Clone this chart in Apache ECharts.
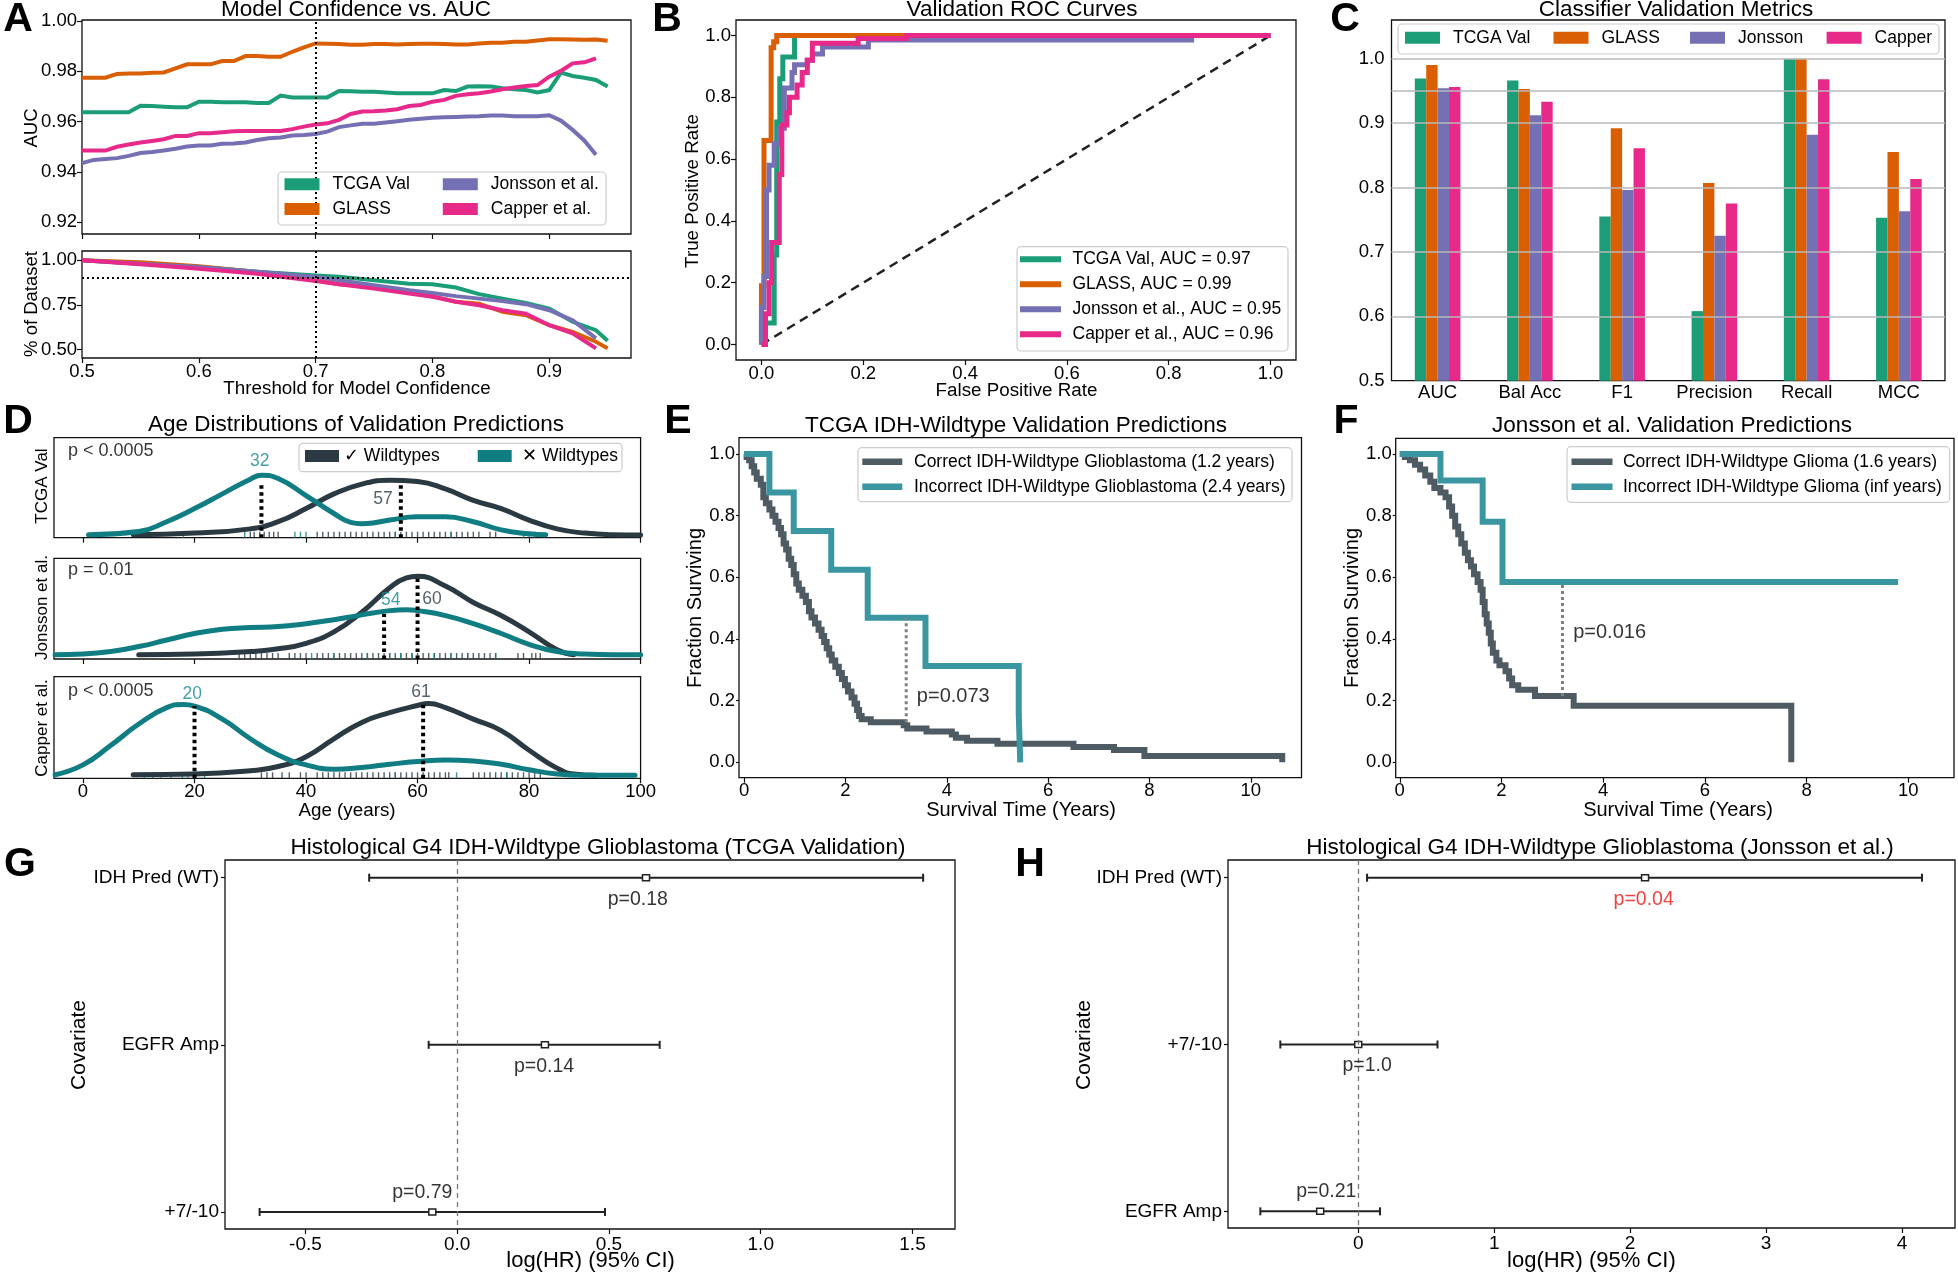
<!DOCTYPE html>
<html><head><meta charset="utf-8">
<script src="https://cdn.jsdelivr.net/npm/echarts@6/dist/echarts.min.js"></script>
<style>html,body{margin:0;padding:0;background:#fff}#c{width:1958px;height:1274px}</style>
</head><body><div id="c"></div>
<script>
// ---------------- DATA ----------------
// Panel A
const aThresh = [0.50,0.51,0.52,0.53,0.54,0.55,0.56,0.57,0.58,0.59,0.60,0.61,0.62,0.63,0.64,0.65,0.66,0.67,0.68,0.69,0.70,0.71,0.72,0.73,0.74,0.75,0.76,0.77,0.78,0.79,0.80,0.81,0.82,0.83,0.84,0.85,0.86,0.87,0.88,0.89,0.90,0.91,0.92,0.93,0.94,0.95];
const aucTCGA = [.9637,.9637,.9637,.9637,.9637,.9663,.9662,.9659,.9657,.9657,.9679,.9679,.9677,.9677,.9677,.9674,.9674,.9703,.9696,.9696,.9696,.9696,.9721,.9720,.9718,.9718,.9715,.9712,.9712,.9712,.9712,.9725,.9721,.9739,.9740,.9739,.9732,.9728,.9725,.9716,.9725,.9794,.9781,.9774,.9765,.9739];
const aucGLASS = [.9774,.9774,.9774,.9789,.9791,.9791,.9794,.9795,.9811,.9827,.9827,.9827,.9840,.9840,.9860,.9860,.9857,.9857,.9877,.9894,.9910,.9909,.9908,.9905,.9905,.9908,.9908,.9906,.9908,.9909,.9909,.9908,.9906,.9906,.9910,.9913,.9913,.9917,.9917,.9922,.9927,.9927,.9926,.9925,.9926,.9921];
const aucJon = [.9435,.9448,.9452,.9455,.9464,.9475,.9479,.9485,.9492,.9501,.9505,.9505,.9512,.9513,.9517,.9527,.9534,.9537,.9545,.9547,.9551,.9560,.9578,.9585,.9591,.9591,.9596,.9601,.9607,.9611,.9615,.9617,.9618,.9620,.9621,.9624,.9624,.9621,.9621,.9621,.9625,.9604,.9567,.9525,.9468];
const aucCap = [.9485,.9485,.9485,.9500,.9509,.9517,.9523,.9530,.9543,.9543,.9554,.9554,.9558,.9562,.9563,.9563,.9563,.9563,.9570,.9580,.9588,.9593,.9607,.9630,.9640,.9641,.9644,.9649,.9662,.9666,.9679,.9686,.9702,.9708,.9712,.9719,.9728,.9735,.9741,.9745,.9778,.9801,.9831,.9835,.9851];
const pctX = [0.50,0.55,0.60,0.65,0.70,0.72,0.75,0.78,0.80,0.82,0.84,0.86,0.88,0.90,0.92,0.94,0.95];
const pctTCGA = [1.0,0.981,0.963,0.935,0.914,0.907,0.888,0.869,0.866,0.847,0.810,0.785,0.761,0.729,0.655,0.608,0.549];
const pctGLASS = [1.0,0.989,0.966,0.935,0.888,0.866,0.851,0.823,0.799,0.767,0.757,0.711,0.692,0.636,0.599,0.543,0.506];
const pctJon = [1.0,0.981,0.963,0.935,0.907,0.888,0.860,0.832,0.817,0.799,0.785,0.771,0.754,0.720,0.664,0.562];
const pctCap = [1.0,0.978,0.953,0.925,0.884,0.866,0.841,0.813,0.795,0.767,0.748,0.720,0.701,0.636,0.590,0.506];
const aThreshTicks = [0.5,0.6,0.7,0.8,0.9];
const aucTicks = [0.92,0.94,0.96,0.98,1.00];
const pctTicks = [0.50,0.75,1.00];

// Panel B (ROC)
const rocTCGA = [[0,0],[0,0.07],[0.025,0.07],[0.025,0.29],[0.03,0.29],[0.03,0.72],[0.036,0.72],[0.036,0.86],[0.042,0.86],[0.042,0.93],[0.065,0.93],[0.065,1.0],[1,1]];
const rocGLASS = [[0,0],[0,0.19],[0.005,0.19],[0.005,0.66],[0.019,0.66],[0.019,0.96],[0.024,0.96],[0.024,0.98],[0.03,0.98],[0.03,1.0],[1,1]];
const rocJon = [[0,0],[0,0.12],[0.005,0.12],[0.005,0.22],[0.01,0.22],[0.01,0.5],[0.015,0.5],[0.015,0.58],[0.025,0.58],[0.025,0.65],[0.035,0.65],[0.035,0.7],[0.045,0.7],[0.045,0.83],[0.06,0.83],[0.06,0.88],[0.065,0.88],[0.065,0.905],[0.09,0.905],[0.09,0.92],[0.1,0.92],[0.1,0.94],[0.12,0.94],[0.12,0.963],[0.21,0.963],[0.21,0.985],[0.845,0.985],[0.845,1.0],[1,1]];
const rocCap = [[0,0],[0.008,0],[0.008,0.1],[0.015,0.1],[0.015,0.2],[0.02,0.2],[0.02,0.33],[0.035,0.33],[0.035,0.55],[0.04,0.55],[0.04,0.71],[0.05,0.71],[0.05,0.75],[0.055,0.75],[0.055,0.8],[0.07,0.8],[0.07,0.84],[0.08,0.84],[0.08,0.88],[0.09,0.88],[0.09,0.92],[0.1,0.92],[0.1,0.975],[0.19,0.975],[0.19,0.99],[0.285,0.99],[0.285,1.0],[1,1]];
const rocChance = [[0,0],[1,1]];
const rocNames = ['TCGA Val, AUC = 0.97','GLASS, AUC = 0.99','Jonsson et al., AUC = 0.95','Capper et al., AUC = 0.96'];
const unitTicks = [0,0.2,0.4,0.6,0.8,1.0];

// Panel C
const cCats = ['AUC','Bal Acc','F1','Precision','Recall','MCC'];
const cTCGA = [0.969,0.966,0.755,0.608,1.000,0.753];
const cGLASS = [0.990,0.953,0.892,0.807,1.000,0.855];
const cJon = [0.954,0.912,0.796,0.725,0.882,0.763];
const cCap = [0.956,0.933,0.861,0.775,0.968,0.813];
const cTicks = [0.5,0.6,0.7,0.8,0.9,1.0];
const cGrid = [0.6,0.7,0.8,0.9,0.95,1.0];

// Panel D (density curves, relative heights)
const dTcgaDarkX = [9,20,30,35,40,45,50,55,60,65,70,75,80,85,90,95,100];
const dTcgaDarkY = [0.01,0.027,0.07,0.143,0.277,0.427,0.527,0.567,0.553,0.477,0.36,0.277,0.16,0.07,0.027,0.01,0.007];
const dTcgaTealX = [1,10,15,20,25,30,32,35,40,45,48,50,52,55,60,65,70,75,80,83];
const dTcgaTealY = [0.01,0.043,0.143,0.277,0.427,0.577,0.617,0.583,0.41,0.227,0.137,0.123,0.13,0.16,0.193,0.193,0.143,0.06,0.02,0.01];
const dJonDarkX = [10,20,30,35,40,45,50,55,58,60,65,70,75,80,85,88];
const dJonDarkY = [0.023,0.03,0.056,0.083,0.139,0.255,0.454,0.702,0.801,0.818,0.719,0.553,0.42,0.255,0.073,0.023];
const dJonTealX = [-5,0,5,10,15,20,25,30,35,40,45,50,55,58,60,65,70,75,80,85,90,95,100];
const dJonTealY = [0.023,0.03,0.056,0.106,0.172,0.238,0.281,0.298,0.308,0.338,0.377,0.427,0.47,0.48,0.47,0.42,0.338,0.238,0.129,0.056,0.03,0.023,0.023];
const dCapDarkX = [9,20,30,35,40,45,50,55,60,62,65,70,75,80,85,88,92];
const dCapDarkY = [0.016,0.023,0.056,0.098,0.197,0.377,0.541,0.639,0.711,0.731,0.689,0.574,0.459,0.262,0.082,0.023,0.01];
const dCapTealX = [-5,0,5,10,15,18,20,25,30,35,40,45,50,55,60,65,70,75,80,85,90,99];
const dCapTealY = [0.016,0.115,0.311,0.525,0.689,0.721,0.705,0.574,0.377,0.213,0.115,0.072,0.089,0.121,0.148,0.164,0.154,0.121,0.066,0.023,0.01,0.01];
const rugTcgaDark = [30,30.7,31.7,32.5,33.4,34.2,35,42,43,44,45,46,47,48,49,50,51,52,53,54,55,56,57,58,59,60,61,62,63,64,65,66,67,68,69,70,71,73,74];
const rugTcgaTeal = [18,29,38,39,40,56,66,79,80,81];
const rugJonDark = [28,29,30,31,32,33,34,35,37,38,39,40,42,43,44,45,46,47,48,49,50,51,52,53,54,55,56,57,58,59,60,61,62,63,64,65,66,67,68,69,70,71,72,73,74,78,79,80.5,81.2,82];
const rugJonTeal = [41,45,51,55,57,59,63,66,69,74];
const rugCapDark = [32,33,34,35.7,37,39,40,42,43,44,45,46,47,48,49,50,51,52,53,54,55,56,57,58,59,60,61,62,63,64,65,65.6,70,71,72,73,74,75,76,77,78,79,80,81,82];
const rugCapTeal = [11,12.5,14,15.8,17.8,18.8,19.8,21.8,56,67,76];
const dNames = ['TCGA Val','Jonsson et al.','Capper et al.'];
const dMedDark = [57,60,61];
const dMedDarkTop = [0.55,0.818,0.731];
const dMedTeal = [32,54,20];
const dMedTealTop = [0.527,0.437,0.705];
const dLabDark = [[53.8,0.377],[62.6,0.586],[60.6,0.846]];
const dLabTeal = [[31.7,0.76],[55.2,0.576],[19.6,0.82]];
const dPText = ['p < 0.0005','p = 0.01','p < 0.0005'];
const dPPos = [[-2.8,0.86],[-2.8,0.877],[-2.8,0.859]];
const dTicks = [0,20,40,60,80,100];

// Panel E / F (Kaplan-Meier, [time, survival])
const eCorrect = [[0,1.0],[0.05,0.99],[0.1,0.98],[0.15,0.96],[0.2,0.94],[0.25,0.92],[0.33,0.90],[0.38,0.86],[0.43,0.84],[0.5,0.82],[0.56,0.80],[0.62,0.78],[0.68,0.76],[0.73,0.74],[0.78,0.71],[0.83,0.69],[0.88,0.66],[0.93,0.64],[0.98,0.61],[1.03,0.58],[1.08,0.56],[1.15,0.54],[1.22,0.52],[1.28,0.49],[1.33,0.47],[1.4,0.45],[1.47,0.43],[1.53,0.41],[1.58,0.39],[1.63,0.37],[1.68,0.35],[1.73,0.33],[1.8,0.31],[1.87,0.29],[1.93,0.27],[1.99,0.25],[2.05,0.23],[2.12,0.21],[2.18,0.19],[2.23,0.17],[2.27,0.15],[2.32,0.14],[2.5,0.13],[3.15,0.12],[3.22,0.11],[3.6,0.10],[4.1,0.09],[4.18,0.08],[4.4,0.07],[5.0,0.06],[6.5,0.05],[7.3,0.04],[7.9,0.02],[10.62,0.0]];
const eIncorrect = [[0,1.0],[0.5,0.875],[0.98,0.75],[1.72,0.625],[2.44,0.469],[3.58,0.3125],[5.42,0.156],[5.45,0.0]];
const fCorrect = [[0,1.0],[0.1,0.99],[0.2,0.98],[0.3,0.965],[0.4,0.95],[0.5,0.93],[0.6,0.91],[0.68,0.89],[0.8,0.875],[0.9,0.86],[0.97,0.83],[1.03,0.80],[1.09,0.765],[1.15,0.74],[1.21,0.71],[1.28,0.68],[1.34,0.655],[1.4,0.635],[1.46,0.61],[1.53,0.585],[1.59,0.56],[1.63,0.52],[1.67,0.48],[1.71,0.45],[1.75,0.42],[1.79,0.385],[1.83,0.355],[1.9,0.33],[1.96,0.315],[2.08,0.295],[2.15,0.272],[2.21,0.25],[2.33,0.235],[2.66,0.215],[3.42,0.183],[7.7,0.0]];
const fIncorrect = [[0,1.0],[0.8,0.914],[1.63,0.78],[2.02,0.585],[9.8,0.585]];
const eNames = ['Correct IDH-Wildtype Glioblastoma (1.2 years)','Incorrect IDH-Wildtype Glioblastoma (2.4 years)'];
const fNames = ['Correct IDH-Wildtype Glioma (1.6 years)','Incorrect IDH-Wildtype Glioma (inf years)'];
const eMedian = [[3.2,0.13],[3.2,0.47]];
const fMedian = [[3.2,0.215],[3.2,0.585]];
const eP = {text:'p=0.073', at:[3.4,0.213]};
const fP = {text:'p=0.016', at:[3.4,0.42]};
const kmXTicks = [0,2,4,6,8,10];

// Panel G / H (forest plots)
const gCov = ['IDH Pred (WT)','EGFR Amp','+7/-10'];
const gLo = [-0.29,-0.094,-0.651];
const gEst = [0.622,0.289,-0.082];
const gHi = [1.535,0.667,0.487];
const gP = ['p=0.18','p=0.14','p=0.79'];
const gPx = [0.595,0.286,-0.115];
const hCov = ['IDH Pred (WT)','+7/-10','EGFR Amp'];
const hLo = [0.065,-0.573,-0.72];
const hEst = [2.11,0.0,-0.28];
const hHi = [4.147,0.583,0.16];
const hP = ['p=0.04','p=1.0','p=0.21'];
const hPx = [2.1,0.065,-0.235];
const gTicks = [-0.5,0,0.5,1.0,1.5];
const hTicks = [0,1,2,3,4];

// ---------------- STYLE / BUILD ----------------
const FONT = "'Liberation Sans', Arial, Helvetica, sans-serif";
const C_TCGA='#1b9e77', C_GLASS='#d95f02', C_JON='#7570b3', C_CAP='#e7298a';
const D_DARK='#2b3a42', D_TEAL='#107d82';
const KM_DARK='#4f5b62', KM_TEAL='#3a96a0';

const grids = [
 {left:82, top:20, width:549, height:214},
 {left:82, top:251, width:549, height:107},
 {left:736, top:20, width:560, height:340},
 {left:1391.5, top:20, width:553.5, height:360.7},
 {left:54, top:437.7, width:586.6, height:100},
 {left:54, top:558.3, width:586.6, height:100.7},
 {left:54, top:676.7, width:586.6, height:101.6},
 {left:739, top:437.7, width:562.5, height:340},
 {left:1395.7, top:438.3, width:558.3, height:339.4},
 {left:225, top:860, width:730, height:369},
 {left:1228, top:860, width:727, height:368}
].map(g => Object.assign({show:true, borderColor:'#111', borderWidth:1.3, backgroundColor:'transparent', containLabel:false, outerBoundsMode:'none'}, g));

function merge(a, b){ for (const k in b){ if (b[k] && typeof b[k]==='object' && !Array.isArray(b[k]) && a[k] && typeof a[k]==='object') merge(a[k], b[k]); else a[k]=b[k]; } return a; }
function axis(gi, min, max, ticks, fmt, extra){
  const a = {type:'value', gridIndex:gi, min, max, axisLine:{show:false, onZero:false}, splitLine:{show:false},
    axisTick:{show: !!ticks, length:5, lineStyle:{color:'#111', width:1.2}},
    axisLabel:{show: !!fmt, color:'#000', fontSize:18.5, margin:5, fontFamily:FONT}};
  if (ticks){ a.axisTick.customValues = ticks; a.axisLabel.customValues = ticks; }
  if (fmt) a.axisLabel.formatter = fmt;
  if (extra) merge(a, extra);
  return a;
}
const f1 = v => v.toFixed(1), f2 = v => v.toFixed(2), f0 = v => String(Math.round(v));

const xAxes = [
  axis(0, 0.5, 0.97, aThreshTicks, null),
  axis(1, 0.5, 0.97, aThreshTicks, f1, {axisLabel:{margin:4}}),
  axis(2, -0.05, 1.05, unitTicks, f1, {axisLabel:{margin:4}}),
  {type:'category', gridIndex:3, data:cCats, axisLine:{show:false, onZero:false}, axisTick:{show:false}, splitLine:{show:false},
   axisLabel:{color:'#000', fontSize:18.5, margin:3, fontFamily:FONT, interval:0}},
  axis(4, -5.2, 100, dTicks, null),
  axis(5, -5.2, 100, dTicks, null),
  axis(6, -5.2, 100, dTicks, f0, {axisLabel:{margin:4}}),
  axis(7, -0.1, 11.0, kmXTicks, f0, {axisLabel:{margin:4}}),
  axis(8, -0.08, 10.9, kmXTicks, f0, {axisLabel:{margin:4}}),
  axis(9, -0.765, 1.64, gTicks, f1, {axisLabel:{fontSize:19, margin:6}}),
  axis(10, -0.958, 4.39, hTicks, f0, {axisLabel:{fontSize:19, margin:6}})
];
const yAxes = [
  axis(0, 0.9154, 1.0003, aucTicks, f2),
  axis(1, 0.452, 1.052, pctTicks, f2),
  axis(2, -0.05, 1.05, unitTicks, f1),
  axis(3, 0.5, 1.06, cTicks, f1, {axisTick:{show:false}, axisLabel:{margin:7}}),
  axis(4, -0.02, 1, null, null),
  axis(5, -0.02, 1, null, null),
  axis(6, -0.02, 1, null, null),
  axis(7, -0.05, 1.053, unitTicks, f1, {axisTick:{length:3}, axisLabel:{margin:4}}),
  axis(8, -0.05, 1.051, unitTicks, f1, {axisTick:{length:3}, axisLabel:{margin:4}}),
  axis(9, -0.106, 2.102, [0,1,2], v => gCov[Math.round(v)], {inverse:true, axisLabel:{fontSize:19, margin:6}, axisTick:{length:4}}),
  axis(10, -0.106, 2.1, [0,1,2], v => hCov[Math.round(v)], {inverse:true, axisLabel:{fontSize:19, margin:6}, axisTick:{length:4}})
];

function line(name, gi, data, color, width, extra){
  return merge({type:'line', name, xAxisIndex:gi, yAxisIndex:gi, data, showSymbol:false, symbol:'none', color,
    lineStyle:{color, width, cap:'butt', join:'miter'}, itemStyle:{color}, silent:true, z:3}, extra||{});
}
function ml(data, color, type, width){
  return {silent:true, symbol:['none','none'], label:{show:false}, animation:false, lineStyle:{color, type, width}, emphasis:{disabled:true}, data};
}
function textPts(gi, items, size){
  return {type:'scatter', xAxisIndex:gi, yAxisIndex:gi, symbolSize:1, silent:true, z:8,
    itemStyle:{color:'rgba(0,0,0,0)'},
    data: items.map(it => ({value:it.at, label:{show:true, formatter:it.text, position:it.pos||'inside', distance:it.dist||0,
      color:it.color||'#000', fontSize:size, fontFamily:FONT}}))};
}

const series = [];
// A
const aSets = [['TCGA Val',aucTCGA,pctTCGA,C_TCGA],['GLASS',aucGLASS,pctGLASS,C_GLASS],['Jonsson et al.',aucJon,pctJon,C_JON],['Capper et al.',aucCap,pctCap,C_CAP]];
aSets.forEach(([n, auc, pct, c], i) => {
  series.push(line(n, 0, auc.map((y,j)=>[aThresh[j], y]), c, 4, i===0 ? {markLine: ml([{xAxis:0.7}], '#000', [2,3], 2)} : {}));
  series.push(line(n, 1, pct.map((y,j)=>[pctX[j], y]), c, 4, i===0 ? {markLine: ml([{xAxis:0.7},{yAxis:0.9}], '#000', [2,3], 2)} : {}));
});
// B
series.push(line('chance', 2, rocChance, '#222', 2.5, {lineStyle:{type:[9,6]}}));
[[rocTCGA,C_TCGA],[rocGLASS,C_GLASS],[rocJon,C_JON],[rocCap,C_CAP]].forEach(([d,c],i) => series.push(line(rocNames[i], 2, d, c, 5)));
// C
series.push({type:'line', name:'grid', xAxisIndex:3, yAxisIndex:3, data:cCats.map(()=>null), z:1, silent:true,
  markLine: ml(cGrid.map(v=>({yAxis:v})), '#b8b8b8', 'solid', 1.5)});
[['TCGA Val',cTCGA,C_TCGA],['GLASS',cGLASS,C_GLASS],['Jonsson',cJon,C_JON],['Capper',cCap,C_CAP]].forEach(([n,d,c]) =>
  series.push({type:'bar', name:n, xAxisIndex:3, yAxisIndex:3, data:d, barWidth:11.4, barGap:'0%', itemStyle:{color:c}, z:3, silent:true}));
// D
const dSets = [
  [dTcgaDarkX,dTcgaDarkY,dTcgaTealX,dTcgaTealY,rugTcgaDark,rugTcgaTeal],
  [dJonDarkX,dJonDarkY,dJonTealX,dJonTealY,rugJonDark,rugJonTeal],
  [dCapDarkX,dCapDarkY,dCapTealX,dCapTealY,rugCapDark,rugCapTeal]
];
dSets.forEach(([dx,dy,tx,ty,rd,rt], k) => {
  const gi = 4 + k;
  series.push(line('✓ Wildtypes', gi, dx.map((x,i)=>[x,dy[i]]), D_DARK, 5, {smooth:0.5, lineStyle:{cap:'round', join:'round'}}));
  series.push(line('✕ Wildtypes', gi, tx.map((x,i)=>[x,ty[i]]), D_TEAL, 5, {smooth:0.5, lineStyle:{cap:'round', join:'round'}}));
  series.push(line('med', gi, [[dMedDark[k],-0.02],[dMedDark[k],dMedDarkTop[k]]], '#000', 4, {lineStyle:{type:[3.5,3.5]}, z:4}));
  series.push(line('med', gi, [[dMedTeal[k],-0.02],[dMedTeal[k],dMedTealTop[k]]], '#000', 4, {lineStyle:{type:[3.5,3.5]}, z:4}));
  series.push({type:'scatter', xAxisIndex:gi, yAxisIndex:gi, symbol:'rect', symbolSize:[1.4,6], symbolOffset:[0,-3], silent:true,
    itemStyle:{color:D_DARK}, data: rd.map(v=>[v,-0.02]), z:2});
  series.push({type:'scatter', xAxisIndex:gi, yAxisIndex:gi, symbol:'rect', symbolSize:[1.4,6], symbolOffset:[0,-3], silent:true,
    itemStyle:{color:D_TEAL}, data: rt.map(v=>[v,-0.02]), z:2});
  series.push(textPts(gi, [
    {text:String(dMedDark[k]), at:dLabDark[k], color:D_DARK},
    {text:String(dMedTeal[k]), at:dLabTeal[k], color:'#158a90'}], 17.5));
  series.push(textPts(gi, [{text:dPText[k], at:dPPos[k], pos:'right'}], 18));
});
// E / F
series.push(line(eNames[0], 7, eCorrect, KM_DARK, 6, {step:'end'}));
series.push(line(eNames[1], 7, eIncorrect, KM_TEAL, 6, {step:'end'}));
series.push(line('medE', 7, eMedian, '#808080', 3, {lineStyle:{type:[3,3]}}));
series.push(textPts(7, [{text:eP.text, at:eP.at, pos:'right'}], 20));
series.push(line(fNames[0], 8, fCorrect, KM_DARK, 6, {step:'end'}));
series.push(line(fNames[1], 8, fIncorrect, KM_TEAL, 6, {step:'end'}));
series.push(line('medF', 8, fMedian, '#808080', 3, {lineStyle:{type:[3,3]}}));
series.push(textPts(8, [{text:fP.text, at:fP.at, pos:'right'}], 20));
// G / H
function errRender(params, api){
  const r = api.value(3);
  const a = api.coord([api.value(0), r]), b = api.coord([api.value(2), r]), e = api.coord([api.value(1), r]);
  const st = {stroke:'#222', lineWidth:2};
  return {type:'group', children:[
    {type:'line', shape:{x1:a[0],y1:a[1],x2:b[0],y2:b[1]}, style:st},
    {type:'line', shape:{x1:a[0],y1:a[1]-4,x2:a[0],y2:a[1]+4}, style:st},
    {type:'line', shape:{x1:b[0],y1:b[1]-4,x2:b[0],y2:b[1]+4}, style:st},
    {type:'rect', shape:{x:e[0]-3.5,y:e[1]-3,width:7,height:6}, style:{fill:'#fff', stroke:'#222', lineWidth:1.5}}
  ]};
}
[[9,gLo,gEst,gHi,gP,gPx],[10,hLo,hEst,hHi,hP,hPx]].forEach(([gi,lo,est,hi,ps,px], idx) => {
  series.push({type:'custom', xAxisIndex:gi, yAxisIndex:gi, silent:true, z:4, renderItem:errRender,
    data: lo.map((l,i)=>[l, est[i], hi[i], i]), encode:{x:[0,1,2], y:3},
    markLine: ml([{xAxis:0}], '#777', [5,4], 1.3)});
  series.push(textPts(gi, ps.map((t,i)=>({text:t, at:[px[i], i], pos: i<2 ? 'bottom' : 'top', dist: i<2 ? 11 : 9,
    color: (idx===1 && i===0) ? '#ee1111' : '#000'})), 19.5));
});

// Legends
function L(name, x, cy, w, h, pad){
  return {show:true, data:[name], left:x, top:cy-10, orient:'horizontal', padding:0, itemGap:0, itemWidth:w, itemHeight:h,
    icon:'rect', selectedMode:false, z:20,
    textStyle:{fontSize:17.5, fontFamily:FONT, color:'#000', lineHeight:20, padding:[0,0,0,pad]}};
}
const legends = [
  L('TCGA Val', 284.5, 184.3, 35, 12, 8), L('GLASS', 284.5, 209, 35, 12, 8),
  L('Jonsson et al.', 442.8, 184.3, 35, 12, 8), L('Capper et al.', 442.8, 209, 35, 12, 8),
  L(rocNames[0], 1020, 259.3, 41, 6, 6.5), L(rocNames[1], 1020, 284.3, 41, 6, 6.5),
  L(rocNames[2], 1020, 309.3, 41, 6, 6.5), L(rocNames[3], 1020, 334.3, 41, 6, 6.5),
  L('TCGA Val', 1405, 37.7, 35, 12, 8), L('GLASS', 1553.5, 37.7, 35, 12, 8),
  L('Jonsson', 1690, 37.7, 35, 12, 8), L('Capper', 1826.6, 37.7, 35, 12, 8),
  L('✓ Wildtypes', 305, 456, 34, 12, 0), L('✕ Wildtypes', 477.7, 456, 34, 12, 5.5),
  L(eNames[0], 862.3, 461.7, 40, 6.5, 6.7), L(eNames[1], 862.3, 486.7, 40, 6.5, 6.7),
  L(fNames[0], 1571.5, 461.7, 41, 6.5, 5.4), L(fNames[1], 1571.5, 486.7, 41, 6.5, 5.4)
];

// Graphic texts / frames
function T(text, x, y, size, o){
  o = o || {};
  return {type:'text', x, y, rotation:o.rot||0, z:50, silent:true,
    style:{text, fontSize:size, fontFamily:FONT, fontWeight:o.bold?'bold':'normal', fill:o.color||'#000', align:o.align||'center', verticalAlign:'middle'}};
}
function R(x,y,w,h){ return {type:'rect', z:5, silent:true, shape:{x,y,width:w,height:h,r:4}, style:{fill:'rgba(255,255,255,0.85)', stroke:'#cccccc', lineWidth:1.2}}; }
const V = Math.PI/2;
const elements = [
  R(278,172,328,53), R(1017,246.7,271,104.3), R(1398,24,541,30), R(299,443.3,323,28.4), R(858,447.7,434,54), R(1567,446.7,382.6,55.6),
  T('A', 18, 20, 41, {bold:true}), T('B', 667, 20, 41, {bold:true}), T('C', 1345, 20, 41, {bold:true}),
  T('D', 18, 422, 41, {bold:true}), T('E', 678, 422, 41, {bold:true}), T('F', 1346, 422, 41, {bold:true}),
  T('G', 20, 865, 41, {bold:true}), T('H', 1030, 865, 41, {bold:true}),
  T('Model Confidence vs. AUC', 356, 10, 22.5), T('Validation ROC Curves', 1022, 10, 22.5), T('Classifier Validation Metrics', 1676, 10, 22.5),
  T('Age Distributions of Validation Predictions', 356, 425, 22.5), T('TCGA IDH-Wildtype Validation Predictions', 1016, 426, 22.5),
  T('Jonsson et al. Validation Predictions', 1672, 426, 22.5),
  T('Histological G4 IDH-Wildtype Glioblastoma (TCGA Validation)', 598, 848, 22.5),
  T('Histological G4 IDH-Wildtype Glioblastoma (Jonsson et al.)', 1600, 848, 22.5),
  T('Threshold for Model Confidence', 357, 389, 18.8), T('AUC', 31.6, 128, 18.5, {rot:V}), T('% of Dataset', 31.6, 304, 18.5, {rot:V}),
  T('False Positive Rate', 1016.5, 391, 18.8), T('True Positive Rate', 693, 191, 18.8, {rot:V}),
  T(dNames[0], 42.7, 486, 17, {rot:V}), T(dNames[1], 42.7, 607.5, 17, {rot:V}), T(dNames[2], 42.7, 728, 17, {rot:V}),
  T('Age (years)', 347, 811, 18.8),
  T('Survival Time (Years)', 1021, 810, 20), T('Fraction Surviving', 695, 608, 20, {rot:V}),
  T('Survival Time (Years)', 1678, 810, 20), T('Fraction Surviving', 1352.5, 608, 20, {rot:V}),
  T('log(HR) (95% CI)', 590.6, 1261, 22), T('Covariate', 79.7, 1045, 21, {rot:V}),
  T('log(HR) (95% CI)', 1591.4, 1261, 22), T('Covariate', 1084.5, 1045, 21, {rot:V})
];

const chart = echarts.init(document.getElementById('c'), null, {renderer:'canvas'});
chart.setOption({
  animation:false, backgroundColor:'#fff', textStyle:{fontFamily:FONT},
  grid:grids, xAxis:xAxes, yAxis:yAxes, legend:legends, series, graphic:{elements}
});
</script></body></html>
